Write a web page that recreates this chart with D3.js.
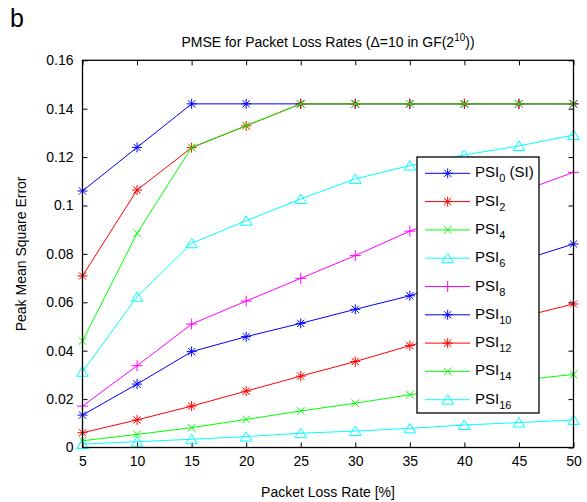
<!DOCTYPE html>
<html>
<head>
<meta charset="utf-8">
<script src="https://cdn.jsdelivr.net/npm/d3@7"></script>
<style>
  body { margin: 0; background: #fff; }
  text { font-family: "Liberation Sans", Arial, sans-serif; }
</style>
</head>
<body>
<div id="container"></div>
<script>
/* DATA */
const rates = [5, 10, 15, 20, 25, 30, 35, 40, 45, 50];
const psi0  = [0.1060, 0.1240, 0.1420, 0.1420, 0.1420, 0.1420, 0.1420, 0.1420, 0.1420, 0.1420];
const psi2  = [0.0709, 0.1064, 0.1239, 0.1329, 0.1420, 0.1420, 0.1420, 0.1420, 0.1420, 0.1420];
const psi4  = [0.0440, 0.0885, 0.1240, 0.1330, 0.1420, 0.1420, 0.1420, 0.1420, 0.1420, 0.1420];
const psi6  = [0.0313, 0.0623, 0.0844, 0.0937, 0.1027, 0.1110, 0.1165, 0.1209, 0.1246, 0.1291];
const psi8  = [0.0171, 0.0338, 0.0510, 0.0605, 0.0699, 0.0793, 0.0894, 0.0975, 0.1055, 0.1137];
const psi10 = [0.0134, 0.0262, 0.0396, 0.0458, 0.0513, 0.0571, 0.0627, 0.0700, 0.0770, 0.0841];
const psi12 = [0.0061, 0.0114, 0.0171, 0.0233, 0.0295, 0.0355, 0.0421, 0.0480, 0.0537, 0.0593];
const psi14 = [0.0028, 0.0054, 0.0082, 0.0116, 0.0151, 0.0183, 0.0218, 0.0250, 0.0278, 0.0302];
const psi16 = [0.0014, 0.0024, 0.0034, 0.0045, 0.0059, 0.0068, 0.0079, 0.0093, 0.0103, 0.0114];

const seriesNames = ["0", "2", "4", "6", "8", "10", "12", "14", "16"];
const seriesValues = [psi0, psi2, psi4, psi6, psi8, psi10, psi12, psi14, psi16];
const yTicks = [0, 0.02, 0.04, 0.06, 0.08, 0.1, 0.12, 0.14, 0.16];

/* CONSTANTS */
const width = 587, height = 502,
      margin = {top: 60.3, left: 82.5, bottom: 54.5, right: 13.5};

const colors  = ["#0000ff", "#ff0000", "#00ff00", "#00ffff", "#ff00ff", "#0000ff", "#ff0000", "#00ff00", "#00ffff"];
const markers = ["star", "star", "x", "tri", "plus", "star", "star", "x", "tri"];

const series = seriesNames.map((n, i) => ({
  name: n,
  color: colors[i],
  marker: markers[i],
  values: rates.map((r, j) => ({rate: r, v: seriesValues[i][j]}))
}));

// marker shapes, drawn as stroked paths
function markerPath(type) {
  const p = d3.path();
  if (type === "star") {
    const r = 5, d = 3.6;
    p.moveTo(-r, 0); p.lineTo(r, 0);
    p.moveTo(0, -r); p.lineTo(0, r);
    p.moveTo(-d, -d); p.lineTo(d, d);
    p.moveTo(-d, d); p.lineTo(d, -d);
  } else if (type === "x") {
    const d = 3.8;
    p.moveTo(-d, -d); p.lineTo(d, d);
    p.moveTo(-d, d); p.lineTo(d, -d);
  } else if (type === "plus") {
    const r = 5.5;
    p.moveTo(-r, 0); p.lineTo(r, 0);
    p.moveTo(0, -r); p.lineTo(0, r);
  } else {
    p.moveTo(0, -5); p.lineTo(5.8, 4.5); p.lineTo(-5.8, 4.5); p.closePath();
  }
  return p.toString();
}

/* SVG */
const svg = d3.select("#container")
  .append("svg")
  .attr("width", width)
  .attr("height", height);

svg.append("rect").attr("width", width).attr("height", height).attr("fill", "#fff");

// SCALES
const xScale = d3.scaleLinear()
  .domain([5, 50])
  .range([margin.left, width - margin.right]);

const yScale = d3.scaleLinear()
  .domain([0, 0.16])
  .range([height - margin.bottom, margin.top]);

const fmt = d => String(+d.toFixed(2));

// AXES (MATLAB style: inward ticks on all four sides)
const x0 = xScale.range()[0], x1 = xScale.range()[1];
const y0 = yScale.range()[0], y1 = yScale.range()[1];

svg.append("g")
  .attr("transform", `translate(0,${y0})`)
  .call(d3.axisBottom(xScale).tickValues(rates).tickSizeInner(-5).tickSizeOuter(0).tickPadding(9))
  .call(g => g.select(".domain").remove())
  .call(g => g.selectAll("text").attr("font-size", 14).attr("fill", "#000").attr("font-family", null));

svg.append("g")
  .attr("transform", `translate(0,${y1})`)
  .call(d3.axisTop(xScale).tickValues(rates).tickSizeInner(-5).tickSizeOuter(0).tickFormat(""))
  .call(g => g.select(".domain").remove());

svg.append("g")
  .attr("transform", `translate(${x0},0)`)
  .call(d3.axisLeft(yScale).tickValues(yTicks).tickFormat(fmt).tickSizeInner(-5).tickSizeOuter(0).tickPadding(9))
  .call(g => g.select(".domain").remove())
  .call(g => g.selectAll("text").attr("font-size", 14).attr("fill", "#000").attr("font-family", null));

svg.append("g")
  .attr("transform", `translate(${x1},0)`)
  .call(d3.axisRight(yScale).tickValues(yTicks).tickSizeInner(-5).tickSizeOuter(0).tickFormat(""))
  .call(g => g.select(".domain").remove());

svg.selectAll(".tick line").attr("stroke", "#000");

// LINES
const lineGen = d3.line()
  .x(d => xScale(d.rate))
  .y(d => yScale(d.v));

const sg = svg.selectAll("g.series")
  .data(series)
  .join("g")
  .attr("class", "series");

sg.append("path")
  .attr("fill", "none")
  .attr("stroke", d => d.color)
  .attr("stroke-width", 1)
  .attr("d", d => lineGen(d.values));

sg.selectAll("path.mk")
  .data(d => d.values.map(v => ({...v, s: d})))
  .join("path")
  .attr("class", "mk")
  .attr("transform", d => `translate(${xScale(d.rate)},${yScale(d.v)})`)
  .attr("d", d => markerPath(d.s.marker))
  .attr("fill", "none")
  .attr("stroke", d => d.s.color)
  .attr("stroke-width", 1);

// FRAME
svg.append("rect")
  .attr("x", x0).attr("y", y1)
  .attr("width", x1 - x0).attr("height", y0 - y1)
  .attr("fill", "none").attr("stroke", "#000").attr("stroke-width", 1.3);

// LEGEND
const legend = svg.append("g").attr("transform", "translate(417,157)");
legend.append("rect")
  .attr("width", 122).attr("height", 256)
  .attr("fill", "#fff").attr("stroke", "#000").attr("stroke-width", 1.3);

const li = legend.selectAll("g.item")
  .data(series)
  .join("g")
  .attr("class", "item")
  .attr("transform", (d, i) => `translate(0,${16.3 + i * 28.3})`);

li.append("line")
  .attr("x1", 8).attr("x2", 53)
  .attr("stroke", d => d.color);

li.append("path")
  .attr("transform", "translate(30.7,0)")
  .attr("d", d => markerPath(d.marker))
  .attr("fill", "none")
  .attr("stroke", d => d.color);

const lt = li.append("text")
  .attr("x", 58).attr("y", 4)
  .attr("font-size", 15)
  .attr("fill", "#000");
lt.append("tspan").text("PSI");
lt.append("tspan").attr("font-size", 11).attr("dy", 5).text(d => d.name);
lt.filter((d, i) => i === 0).append("tspan").attr("dy", -5).text(" (SI)");

// TITLES
svg.append("text")
  .attr("x", (x0 + x1) / 2).attr("y", 47)
  .attr("text-anchor", "middle").attr("font-size", 14)
  .html('PMSE for Packet Loss Rates (Δ=10 in GF(2<tspan font-size="10" dy="-6">10</tspan><tspan dy="6">))</tspan>');

svg.append("text")
  .attr("x", (x0 + x1) / 2).attr("y", 497)
  .attr("text-anchor", "middle").attr("font-size", 14)
  .text("Packet Loss Rate [%]");

svg.append("text")
  .attr("transform", `translate(26,${(y0 + y1) / 2}) rotate(-90)`)
  .attr("text-anchor", "middle").attr("font-size", 14)
  .text("Peak Mean Square Error");

svg.append("text")
  .attr("x", 10).attr("y", 27)
  .attr("font-size", 25)
  .text("b");
</script>
</body>
</html>
